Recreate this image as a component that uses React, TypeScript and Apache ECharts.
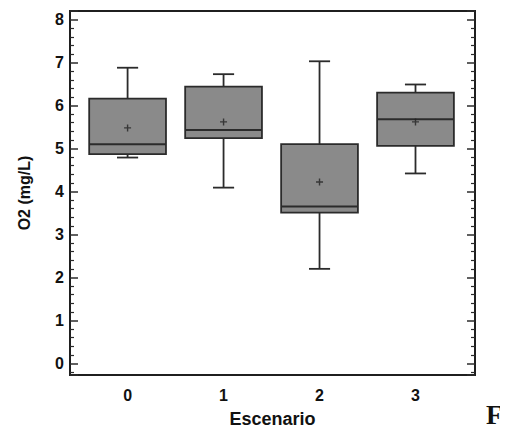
import React, { useEffect, useRef } from "react";
import * as echarts from "echarts";

const scenarios = [0, 1, 2, 3];
const whiskerLow = [4.79, 4.09, 2.2, 4.42];
const q1 = [4.87, 5.24, 3.51, 5.06];
const median = [5.1, 5.43, 3.65, 5.68];
const q3 = [6.16, 6.44, 5.1, 6.3];
const whiskerHigh = [6.88, 6.73, 7.03, 6.49];
const means = [5.48, 5.62, 4.22, 5.62];
const yTickLabels = ["0", "1", "2", "3", "4", "5", "6", "7", "8"];

const boxData = scenarios.map((s, i) => [s, whiskerLow[i], q1[i], median[i], q3[i], whiskerHigh[i]]);
const meanData = scenarios.map((s, i) => [s, means[i]]);

const BOX_W = 0.8;
const CAP_W = 0.22;
const LINE = "#2b2b2b";

export default function App() {
  const ref = useRef<HTMLDivElement>(null);
  useEffect(() => {
    if (!ref.current) return;
    const chart = echarts.init(ref.current, null, { renderer: "svg" });
    const tickLabelStyle = {
      fontFamily: "Liberation Sans, Arial, sans-serif",
      fontWeight: "bold" as const,
      fontSize: 16,
      color: "#111",
    };
    const yAxisBase = {
      type: "value" as const,
      min: -0.27,
      max: 8.2,
      splitNumber: 8,
      splitLine: { show: false },
      axisLine: { show: false, onZero: false },
      axisTick: { show: true, inside: true, length: 8, lineStyle: { color: LINE, width: 1.5 } },
      minorTick: { show: true, splitNumber: 5, length: 4, lineStyle: { color: LINE, width: 1.2 } },
    };
    chart.setOption({
      animation: false,
      backgroundColor: "#ffffff",
      grid: {
        left: 70,
        right: 33,
        top: 11,
        bottom: 56,
        show: true,
        borderColor: "#1f1f1f",
        borderWidth: 2,
        backgroundColor: "transparent",
      },
      xAxis: {
        type: "value",
        min: -0.6,
        max: 3.62,
        splitNumber: 4,
        splitLine: { show: false },
        axisLine: { show: false, onZero: false },
        axisTick: { show: false },
        axisLabel: {
          ...tickLabelStyle,
          margin: 12,
          showMinLabel: false,
          showMaxLabel: false,
          formatter: (v: number) => (scenarios.includes(v) ? String(v) : ""),
        },
        name: "Escenario",
        nameLocation: "middle",
        nameGap: 35,
        nameTextStyle: { ...tickLabelStyle, fontSize: 18 },
      },
      yAxis: [
        {
          ...yAxisBase,
          position: "left",
          axisLabel: {
            ...tickLabelStyle,
            margin: 6,
            showMinLabel: false,
            showMaxLabel: false,
            formatter: (v: number) => {
              const s = String(v);
              return yTickLabels.includes(s) ? s : "";
            },
          },
          name: "O2 (mg/L)",
          nameLocation: "middle",
          nameGap: 38,
          nameTextStyle: { ...tickLabelStyle, fontSize: 16 },
        },
        {
          ...yAxisBase,
          position: "right",
          axisLabel: { show: false },
        },
      ],
      graphic: [
        {
          type: "text",
          left: 486,
          top: 401,
          style: {
            text: "F",
            font: "bold 27px 'Liberation Serif', 'DejaVu Serif', serif",
            fill: "#111",
          },
        },
      ],
      series: [
        {
          type: "custom",
          data: boxData,
          encode: { x: 0, y: [1, 2, 3, 4, 5] },
          renderItem: (params: any, api: any) => {
            const x = api.value(0);
            const lo = api.coord([x, api.value(1)]);
            const p1 = api.coord([x, api.value(2)]);
            const pm = api.coord([x, api.value(3)]);
            const p3 = api.coord([x, api.value(4)]);
            const hi = api.coord([x, api.value(5)]);
            const hw = api.size([BOX_W, 0])[0] / 2;
            const cw = api.size([CAP_W, 0])[0] / 2;
            const cx = lo[0];
            const lineStyle = { stroke: LINE, lineWidth: 1.8, fill: "none" };
            return {
              type: "group",
              children: [
                { type: "line", shape: { x1: cx, y1: p3[1], x2: cx, y2: hi[1] }, style: lineStyle },
                { type: "line", shape: { x1: cx, y1: p1[1], x2: cx, y2: lo[1] }, style: lineStyle },
                { type: "line", shape: { x1: cx - cw, y1: hi[1], x2: cx + cw, y2: hi[1] }, style: lineStyle },
                { type: "line", shape: { x1: cx - cw, y1: lo[1], x2: cx + cw, y2: lo[1] }, style: lineStyle },
                {
                  type: "rect",
                  shape: { x: cx - hw, y: p3[1], width: hw * 2, height: p1[1] - p3[1] },
                  style: { fill: "#8a8a8a", stroke: LINE, lineWidth: 1.8 },
                },
                { type: "line", shape: { x1: cx - hw, y1: pm[1], x2: cx + hw, y2: pm[1] }, style: { stroke: LINE, lineWidth: 2 } },
              ],
            };
          },
          z: 2,
        },
        {
          type: "scatter",
          data: meanData,
          symbol: "path://M4,0 L6,0 L6,4 L10,4 L10,6 L6,6 L6,10 L4,10 L4,6 L0,6 L0,4 L4,4 Z",
          symbolSize: 7,
          itemStyle: { color: "#222" },
          z: 3,
        },
      ],
    });
    return () => chart.dispose();
  }, []);
  return <div ref={ref} style={{ width: 508, height: 433, marginLeft: -8, marginTop: -8 }} />;
}
